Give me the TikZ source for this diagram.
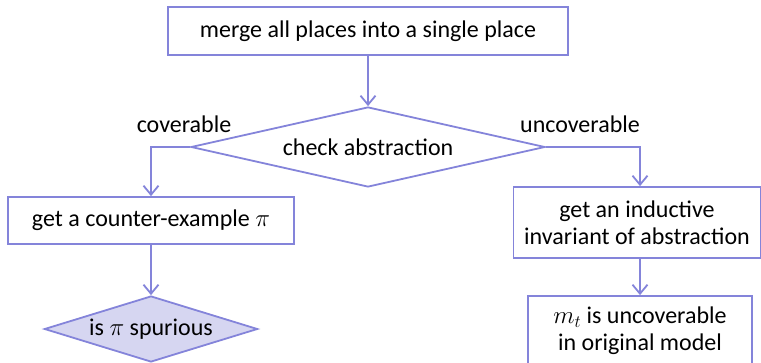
\documentclass[tikz,border=0pt]{standalone}
\usepackage{fontspec}
\setmainfont{Carlito}
\usetikzlibrary{shapes.geometric,arrows.meta}
\definecolor{flowline}{RGB}{132,132,218}
\definecolor{flowfill}{RGB}{214,214,241}
\tikzset{
  every node/.style={font=\fontsize{24}{27}\selectfont, text=black},
  procbox/.style={draw=flowline, line width=1.8pt, rectangle, inner sep=0pt, align=center},
  decbox/.style={draw=flowline, line width=1.8pt, diamond, aspect=4.4, inner sep=0pt, align=center},
  flowarrow/.style={draw=flowline, line width=1.8pt, -{Straight Barb[length=9pt,width=15pt,line width=1.8pt]}},
  branchlabel/.style={inner sep=0pt}
}
\begin{document}
\begin{tikzpicture}[x=1pt,y=-1pt]
\useasboundingbox (0,0) rectangle (761,362);
\clip (0,0) rectangle (761,362);

% process steps and decisions
\node[procbox, minimum width=400pt, minimum height=48pt] (merge) at (368,31) {merge all places into a single place};
\node[decbox, minimum width=354pt, minimum height=80pt] (check) at (368,147) {check abstraction};
\node[procbox, minimum width=286pt, minimum height=47pt] (cex) at (151,220.5) {get a counter-example $\pi$};
\node[decbox, fill=flowfill, minimum width=210pt, minimum height=66pt] (spur) at (151,329) {is $\pi$ spurious};
\node[procbox, minimum width=247pt, minimum height=71pt] (inv) at (637,222.5) {get an inductive\\invariant of abstraction};
\node[procbox, minimum width=224pt, minimum height=70pt] (uncov) at (640,331) {$m_t$ is uncoverable\\in original model};

% branch labels
\node[branchlabel] (lcov) at (184,124) {coverable};
\node[branchlabel] (lunc) at (580,124) {uncoverable};

% connectors
\draw[flowarrow] (merge.south) -- (check.north);
\draw[flowarrow] (check.west) -| (cex.north);
\draw[flowarrow] (check.east) -| (inv.north -| uncov.north);
\draw[flowarrow] (cex.south) -- (spur.north);
\draw[flowarrow] (inv.south -| uncov.north) -- (uncov.north);
\end{tikzpicture}
\end{document}
